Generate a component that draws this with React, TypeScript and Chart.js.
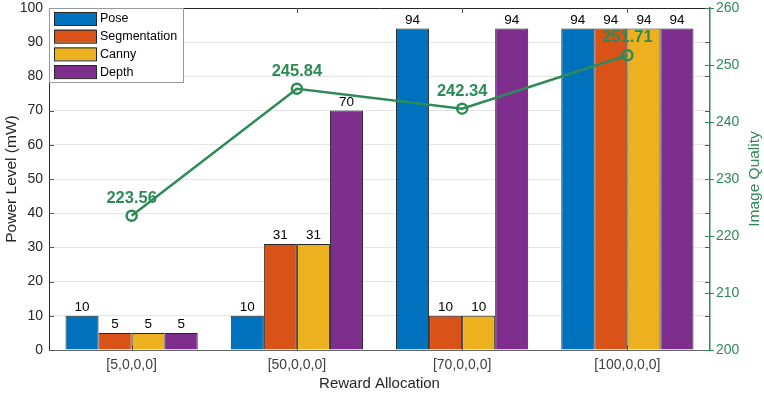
import React, { useEffect, useRef } from "react";
import { Chart, registerables } from "chart.js";

Chart.register(...registerables);

const categories = ["[5,0,0,0]", "[50,0,0,0]", "[70,0,0,0]", "[100,0,0,0]"];
const seriesNames = ["Pose", "Segmentation", "Canny", "Depth"];
const pose = [10, 10, 94, 94];
const segmentation = [5, 31, 10, 94];
const canny = [5, 31, 10, 94];
const depth = [5, 70, 94, 94];
const imageQuality = [223.56, 245.84, 242.34, 251.71];
const leftTicks = [0, 10, 20, 30, 40, 50, 60, 70, 80, 90, 100];
const rightTicks = [200, 210, 220, 230, 240, 250, 260];

const barColors = ["#0072BD", "#D95319", "#EDB120", "#7E2F8E"];
const GREEN = "#2E8B57";
const FONT = "Liberation Sans, Arial, sans-serif";

const overlayPlugin = {
  id: "overlay",
  afterDatasetsDraw(chart: any) {
    const ctx = chart.ctx;
    const area = chart.chartArea;
    const xs = chart.scales.x;
    const yl = chart.scales.y;
    const yr = chart.scales.y2;
    ctx.save();
    ctx.strokeStyle = "#262626";
    ctx.lineWidth = 1;
    ctx.beginPath();
    ctx.moveTo(area.left, area.top + 0.5);
    ctx.lineTo(area.right, area.top + 0.5);
    ctx.stroke();
    ctx.strokeStyle = "#555";
    categories.forEach((_, i) => {
      const x = Math.round(xs.getPixelForValue(i)) + 0.5;
      ctx.beginPath();
      ctx.moveTo(x, area.top);
      ctx.lineTo(x, area.top + 5);
      ctx.moveTo(x, area.bottom);
      ctx.lineTo(x, area.bottom - 5);
      ctx.stroke();
    });
    leftTicks.forEach((v) => {
      const y = Math.round(yl.getPixelForValue(v)) + 0.5;
      ctx.strokeStyle = "#555";
      ctx.beginPath();
      ctx.moveTo(area.left, y);
      ctx.lineTo(area.left + 5, y);
      ctx.moveTo(area.right, y);
      ctx.lineTo(area.right - 5, y);
      ctx.stroke();
    });
    rightTicks.forEach((v) => {
      const y = Math.round(yr.getPixelForValue(v)) + 0.5;
      ctx.strokeStyle = GREEN;
      ctx.beginPath();
      ctx.moveTo(area.right + 4, y);
      ctx.lineTo(area.right - 5, y);
      ctx.stroke();
    });
    ctx.fillStyle = "#000";
    ctx.font = `13.5px ${FONT}`;
    ctx.textAlign = "center";
    ctx.textBaseline = "alphabetic";
    for (let d = 0; d < 4; d++) {
      const meta = chart.getDatasetMeta(d);
      meta.data.forEach((el: any, i: number) => {
        const v = chart.data.datasets[d].data[i];
        ctx.fillText(String(v), el.x, el.y - 5);
      });
    }
    const lm = chart.getDatasetMeta(4);
    ctx.fillStyle = GREEN;
    ctx.font = `bold 16.5px ${FONT}`;
    lm.data.forEach((el: any, i: number) => {
      ctx.fillText(imageQuality[i].toFixed(2), el.x, el.y - 13);
    });
    ctx.save();
    ctx.translate(755, (area.top + area.bottom) / 2);
    ctx.rotate(-Math.PI / 2);
    ctx.fillStyle = GREEN;
    ctx.font = `15.5px ${FONT}`;
    ctx.textAlign = "center";
    ctx.textBaseline = "middle";
    ctx.fillText("Image Quality", 0, 0);
    ctx.restore();
    const lx = area.left, ly = area.top;
    const lw = 134, lh = 74;
    ctx.fillStyle = "#fff";
    ctx.fillRect(lx, ly, lw, lh);
    ctx.strokeStyle = "#999";
    ctx.lineWidth = 1;
    ctx.strokeRect(lx + 0.5, ly + 0.5, lw, lh);
    seriesNames.forEach((name, i) => {
      const ry = ly + 4 + i * 17.7;
      ctx.fillStyle = barColors[i];
      ctx.fillRect(lx + 5, ry, 42, 13);
      ctx.strokeStyle = "#262626";
      ctx.strokeRect(lx + 5.5, ry + 0.5, 42, 13);
      ctx.fillStyle = "#000";
      ctx.font = `12.5px ${FONT}`;
      ctx.textAlign = "left";
      ctx.textBaseline = "middle";
      ctx.fillText(name, lx + 51, ry + 7);
    });
    ctx.restore();
  },
};

export default function App() {
  const ref = useRef<HTMLCanvasElement>(null);
  useEffect(() => {
    const seriesData = [pose, segmentation, canny, depth];
    const chart = new Chart(ref.current!, {
      type: "bar",
      data: {
        labels: categories,
        datasets: [
          ...seriesNames.map((n, i) => ({
            type: "bar" as const,
            label: n,
            data: seriesData[i],
            backgroundColor: barColors[i],
            borderColor: "#262626",
            borderWidth: 1,
            categoryPercentage: 0.8,
            barPercentage: 1.0,
            yAxisID: "y",
            order: 2,
          })),
          {
            type: "line" as const,
            label: "Image Quality",
            data: imageQuality,
            borderColor: GREEN,
            backgroundColor: "rgba(0,0,0,0)",
            borderWidth: 2.5,
            pointRadius: 5,
            pointBorderWidth: 2.5,
            pointBackgroundColor: "rgba(0,0,0,0)",
            pointBorderColor: GREEN,
            yAxisID: "y2",
            order: 0,
          } as any,
        ],
      },
      options: {
        responsive: false,
        animation: false,
        layout: { padding: { top: 8, right: 0, left: 0, bottom: 0 } },
        plugins: { legend: { display: false }, tooltip: { enabled: false } },
        scales: {
          x: {
            type: "category",
            offset: true,
            grid: { display: false, drawTicks: false },
            border: { color: "#666", width: 1 },
            ticks: { color: "#404040", font: { family: FONT, size: 14 }, padding: 7 },
            title: { display: true, text: "Reward Allocation", color: "#262626", font: { family: FONT, size: 15 }, padding: { top: 0, bottom: 0 } },
            afterFit: (s: any) => { s.height = 43; s.paddingLeft = 0; s.paddingRight = 0; },
          },
          y: {
            position: "left",
            min: 0,
            max: 100,
            afterBuildTicks: (s: any) => { s.ticks = leftTicks.map((v) => ({ value: v })); },
            grid: { color: "#e6e6e6", drawTicks: false },
            border: { color: "#262626", width: 1 },
            ticks: { color: "#262626", font: { family: FONT, size: 14 }, padding: 6 },
            title: { display: true, text: "Power Level (mW)", color: "#262626", font: { family: FONT, size: 15.5 }, padding: { top: 2, bottom: 0 } },
            afterFit: (s: any) => { s.width = 49; s.paddingTop = 0; s.paddingBottom = 0; },
          },
          y2: {
            position: "right",
            min: 200,
            max: 260,
            afterBuildTicks: (s: any) => { s.ticks = rightTicks.map((v) => ({ value: v })); },
            grid: { display: false, drawTicks: false },
            border: { color: GREEN, width: 1.5 },
            ticks: { color: GREEN, font: { family: FONT, size: 14 }, padding: 6 },
            afterFit: (s: any) => { s.width = 54; s.paddingTop = 0; s.paddingBottom = 0; },
          },
        },
      },
      plugins: [overlayPlugin],
    });
    return () => chart.destroy();
  }, []);
  return (
    <div style={{ position: "fixed", left: 0, top: 0, width: 764, height: 393, background: "#fff" }}>
      <canvas ref={ref} width={764} height={393} style={{ width: 764, height: 393 }} />
    </div>
  );
}
